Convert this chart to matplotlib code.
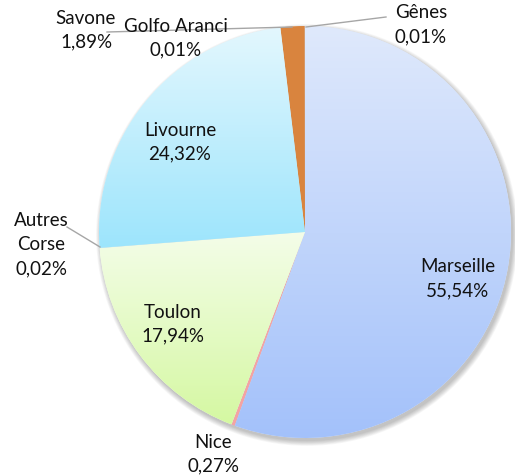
import numpy as np
import matplotlib.pyplot as plt
from matplotlib.colors import to_rgb
from matplotlib.patches import Circle

# Données (parts de trafic, en %)
ports = ['Marseille', 'Nice', 'Toulon', 'Autres\nCorse', 'Livourne',
         'Savone', 'Golfo Aranci', 'Gênes']
parts = [55.54, 0.27, 17.94, 0.02, 24.32, 1.89, 0.01, 0.01]

# couleurs : (haut, bas) pour les dégradés
couleurs = [('#dfe9fc', '#a3c1fa'), ('#f4a3a3', '#f4a3a3'), ('#f4fde9', '#d5f8a2'),
            ('#a9d3f0', '#a9d3f0'), ('#e3f7fe', '#9de5fc'), ('#d9843e', '#d9843e'),
            ('#d9843e', '#d9843e'), ('#dfe9fc', '#dfe9fc')]

# position des étiquettes (pixels, origine en haut à gauche)
pos_etiq = [(458, 279), (213, 454), (173, 324), (41, 245), (180, 142),
            (86, 30), (176, 38), (421, 25)]
# lignes de rappel
rappels = [None, None, None, [(67, 227), (100, 247)], None,
           [(107, 32), (292, 27)], None, [(306, 27), (386, 17)]]

W, H = 515, 475
cx, cy, R = 305, 232, 206

plt.rcParams['font.family'] = ['Lato', 'DejaVu Sans']
fig = plt.figure(figsize=(W / 100, H / 100), dpi=100)
ax = fig.add_axes([0, 0, 1, 1])

# ombre portée
for i in range(8):
    ax.add_patch(Circle((cx + 2, H - cy - 3), R + 0.7 * i, color='k',
                        alpha=0.03, lw=0, zorder=0))

wedges, _ = ax.pie(parts, startangle=90, counterclock=False, center=(cx, H - cy),
                   radius=R, colors=[c[0] for c in couleurs],
                   wedgeprops=dict(linewidth=0))

for w, (c1, c2) in zip(wedges, couleurs):
    w.set_zorder(1)
    if c1 == c2:
        continue
    v = w.get_path().vertices
    x0, x1 = v[:, 0].min(), v[:, 0].max()
    y0, y1 = v[:, 1].min(), v[:, 1].max()
    t = np.linspace(0, 1, 256)[:, None]
    grad = (1 - t) * np.array(to_rgb(c1)) + t * np.array(to_rgb(c2))
    im = ax.imshow(grad[:, None, :], extent=(x0, x1, y0, y1), origin='upper',
                   aspect='auto', zorder=2, interpolation='bilinear')
    im.set_clip_path(w)

for nom, p, (x, y), r in zip(ports, parts, pos_etiq, rappels):
    txt = nom + '\n' + f'{p:.2f}'.replace('.', ',') + '%'
    ax.text(x, H - y, txt, ha='center', va='center', fontsize=13.5,
            color='#111111', linespacing=1.5, zorder=5)
    if r:
        ax.plot([r[0][0], r[1][0]], [H - r[0][1], H - r[1][1]],
                color='#a6a6a6', lw=1, zorder=4)

ax.set_xlim(0, W)
ax.set_ylim(0, H)
ax.set_aspect('auto')
ax.axis('off')
fig.savefig('out.png', dpi=100)
